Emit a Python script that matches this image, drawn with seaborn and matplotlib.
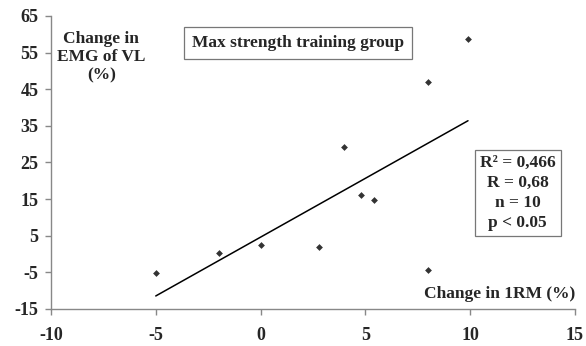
import matplotlib
matplotlib.use("Agg")
import matplotlib.pyplot as plt
import seaborn as sns
import pandas as pd

# Change in 1RM (%) vs change in EMG of VL (%)
rm_change = [-5.0, -2.0, 0.0, 2.8, 4.8, 5.4, 8.0, 4.0, 8.0, 9.9]
emg_change = [-5.2, 0.4, 2.6, 1.9, 16.1, 14.7, -4.3, 29.3, 47.0, 58.8]

x_ticks = [-10, -5, 0, 5, 10, 15]
y_ticks = [-15, -5, 5, 15, 25, 35, 45, 55, 65]

stats_lines = ["R\u00b2 = 0,466", "R = 0,68", "n = 10", "p < 0.05"]

df = pd.DataFrame({"rm": rm_change, "emg": emg_change})

sns.set_style("white")
plt.rcParams["font.family"] = ["Liberation Serif", "DejaVu Serif"]
plt.rcParams["font.weight"] = "bold"
plt.rcParams["axes.unicode_minus"] = False

fig = plt.figure(figsize=(5.86, 3.46), dpi=100)
ax = fig.add_axes([0.087, 0.107, 0.894, 0.847])

sns.regplot(data=df, x="rm", y="emg", ax=ax, ci=None,
            marker="D", color="black",
            scatter_kws={"s": 12, "linewidths": 0},
            line_kws={"linewidth": 1.1})

ax.set_xlim(-10, 15)
ax.set_ylim(-15, 65)
ax.set_xticks(x_ticks)
ax.set_yticks(y_ticks)
ax.set_xlabel("")
ax.set_ylabel("")

for s in ["top", "right"]:
    ax.spines[s].set_visible(False)
for s in ["left", "bottom"]:
    ax.spines[s].set_color("#888888")
    ax.spines[s].set_linewidth(1.0)

ax.tick_params(axis="both", which="major", direction="out", length=4,
               width=1, color="#888888", labelsize=13, bottom=True, left=True)
ax.tick_params(axis="x", pad=9)
ax.tick_params(axis="y", pad=5)
for lab in ax.get_xticklabels() + ax.get_yticklabels():
    lab.set_fontweight("bold")

ax.text(-7.6, 53.8, "Change in\nEMG of VL\n(%)", ha="center", va="center",
        fontsize=12.5, fontweight="bold", linespacing=1.2)

ax.text(1.8, 57.6, "Max strength training group", ha="center", va="center",
        fontsize=12.5, fontweight="bold",
        bbox=dict(boxstyle="square,pad=0.45", fc="white", ec="#777777", lw=0.9))

ax.text(12.27, 16.7, "\n".join(stats_lines), ha="center", va="center",
        fontsize=12.5, fontweight="bold", linespacing=1.32,
        bbox=dict(boxstyle="square,pad=0.3", fc="white", ec="#777777", lw=0.9))

ax.text(15.0, -10.9, "Change in 1RM (%)", ha="right", va="center",
        fontsize=12.5, fontweight="bold")

fig.savefig("out.png", dpi=100)
